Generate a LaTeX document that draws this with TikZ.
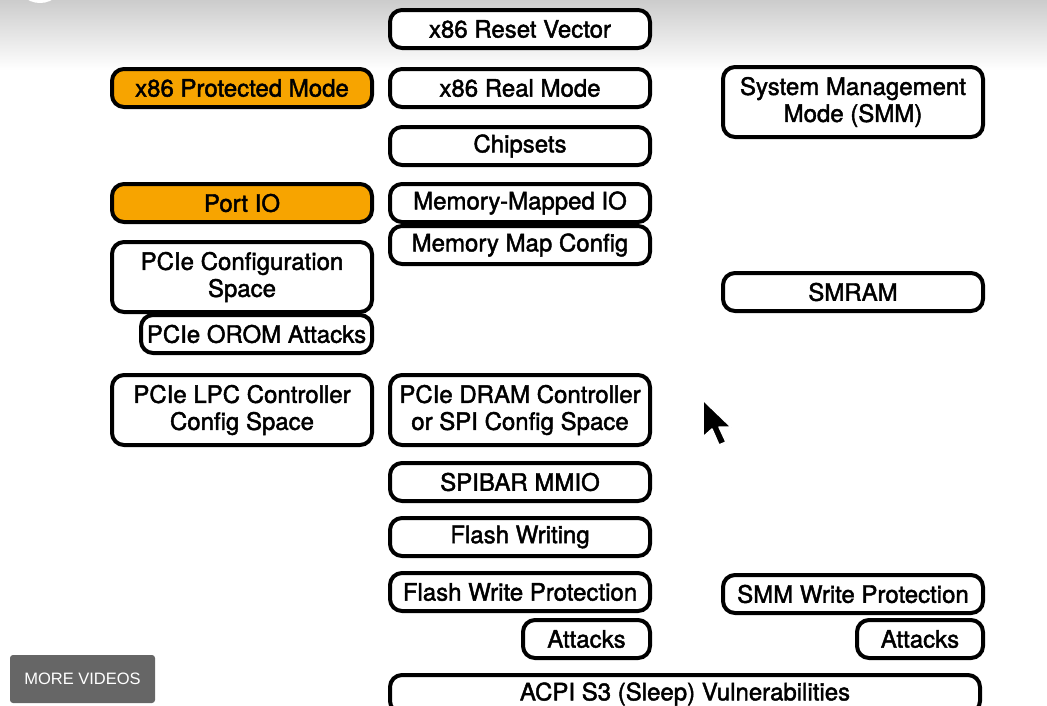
\documentclass[tikz,border=0pt]{standalone}
\usepackage{fontspec}
\setmainfont{TeX Gyre Heros}[FakeBold=1.8]
\newfontfamily\btnfont{Liberation Sans}
\definecolor{hotorange}{HTML}{F7A400}
\begin{document}
\begin{tikzpicture}[x=1pt, y=-1pt,
      box/.style = {draw, fill=white, line width=4pt, rounded corners=12pt, inner sep=0pt, align=center,
        minimum width=260pt, minimum height=38pt, font=\fontsize{24}{27}\selectfont},
      tall/.style = {box, minimum height=70pt},
      hot/.style = {box, fill=hotorange},
      morebtn/.style = {fill=black!60, rounded corners=3pt, text=white, inner sep=0pt,
        minimum width=145pt, minimum height=48pt, font=\btnfont\fontsize{16.5}{18}\selectfont}]
    \useasboundingbox (0,0) rectangle (1047,705);
    \shade[top color=black!20, bottom color=white] (0,0) rectangle (1047,70);
    \fill[white] (40,-22) circle (25pt);
    % middle column
    \node[box] (resetvec) at (520,29) {x86 Reset Vector};
    \node[box] (realmode) at (520,88) {x86 Real Mode};
    \node[box] (chipsets) at (520,146) {Chipsets};
    \node[box] (mmio) at (520,203) {Memory-Mapped IO};
    \node[box] (mmapcfg) at (520,245) {Memory Map Config};
    \node[tall] (dramcfg) at (520,410) {PCIe DRAM Controller\\or SPI Config Space};
    \node[box] (spibar) at (520,482) {SPIBAR MMIO};
    \node[box] (flashwr) at (520,537) {Flash Writing};
    \node[box] (flashwp) at (520,592) {Flash Write Protection};
    \node[box, minimum width=127pt] (flashatk) at (586.5,639) {Attacks};
    \node[box, minimum width=590pt] (acpi) at (685,694) {ACPI S3 (Sleep) Vulnerabilities};
    % left column
    \node[hot] (protmode) at (242,88) {x86 Protected Mode};
    \node[hot] (portio) at (242,203) {Port IO};
    \node[tall] (pcicfg) at (242,277) {PCIe Configuration\\Space};
    \node[box, minimum width=231pt] (orom) at (256.5,334) {PCIe OROM Attacks};
    \node[tall] (lpccfg) at (242,410) {PCIe LPC Controller\\Config Space};
    % right column
    \node[tall] (smm) at (853,102) {System Management\\Mode (SMM)};
    \node[box] (smram) at (853,292) {SMRAM};
    \node[box] (smmwp) at (853,594) {SMM Write Protection};
    \node[box, minimum width=126pt] (smmatk) at (920,639) {Attacks};
    % player overlay
    \node[morebtn] (morevids) at (82.5,679) {MORE VIDEOS};
    \filldraw[fill=black, draw=white, line width=1.5pt, line join=round]
      (703,400) -- (703,437) -- (712,429) -- (719,445) -- (726,442) -- (719,427) -- (731,427) -- cycle;
\end{tikzpicture}
\end{document}
